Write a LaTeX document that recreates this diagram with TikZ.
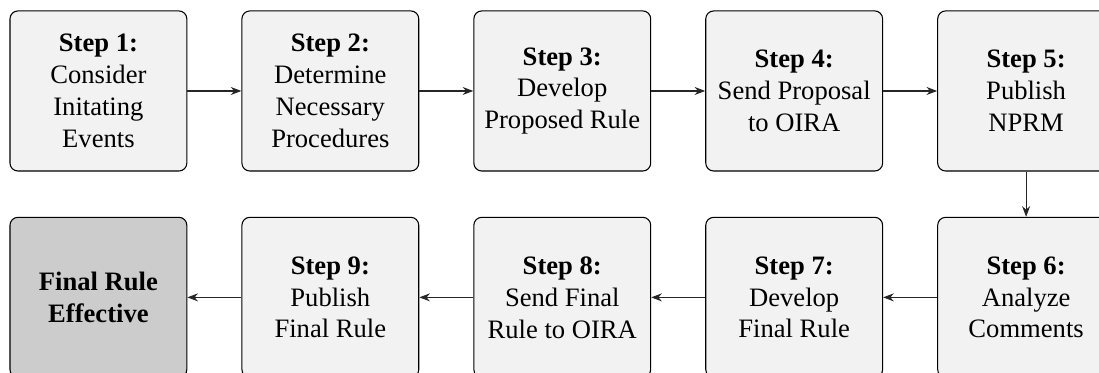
\documentclass[tikz,border=0pt]{standalone}
\usepackage{fontspec}
\setmainfont{Liberation Serif}
\usepackage{tikz}
\usetikzlibrary{positioning}
\usetikzlibrary{arrows.meta}
\tikzset{stepbox/.style = {draw, rounded corners = 3pt, fill = black!5, minimum width = 66.5pt, minimum height = 60.2pt, align = center, inner sep = 2pt}}
\tikzset{finalbox/.style = {stepbox, fill = black!20, font = \bfseries}}
\tikzset{flow/.style = {-{Stealth[length = 4pt, width = 3pt]}, black!85}}

\begin{document}
\begin{tikzpicture}
    \useasboundingbox (0, 0) rectangle (413.2pt, -140.2pt);
    % first row, left to right
    \node [stepbox] (s1) at (37pt, -34.2pt) {\textbf{Step 1:}\\Consider\\Initating\\Events};
    \node [stepbox, right = 20.3pt of s1] (s2) {\textbf{Step 2:}\\Determine\\Necessary\\Procedures};
    \node [stepbox, right = 20.3pt of s2] (s3) {\textbf{Step 3:}\\Develop\\Proposed Rule};
    \node [stepbox, right = 20.3pt of s3] (s4) {\textbf{Step 4:}\\Send Proposal\\to OIRA};
    \node [stepbox, right = 20.3pt of s4] (s5) {\textbf{Step 5:}\\Publish\\NPRM};
    % second row, right to left
    \node [stepbox, below = 17pt of s5] (s6) {\textbf{Step 6:}\\Analyze\\Comments};
    \node [stepbox, left = 20.3pt of s6] (s7) {\textbf{Step 7:}\\Develop\\Final Rule};
    \node [stepbox, left = 20.3pt of s7] (s8) {\textbf{Step 8:}\\Send Final\\Rule to OIRA};
    \node [stepbox, left = 20.3pt of s8] (s9) {\textbf{Step 9:}\\Publish\\Final Rule};
    \node [finalbox, left = 20.3pt of s9] (fin) {Final Rule\\Effective};
    \foreach \a\b in {s1/s2, s2/s3, s3/s4, s4/s5, s5/s6, s6/s7, s7/s8, s8/s9, s9/fin} {
        \draw [flow] (\a) -- (\b);
    }
\end{tikzpicture}
\end{document}
